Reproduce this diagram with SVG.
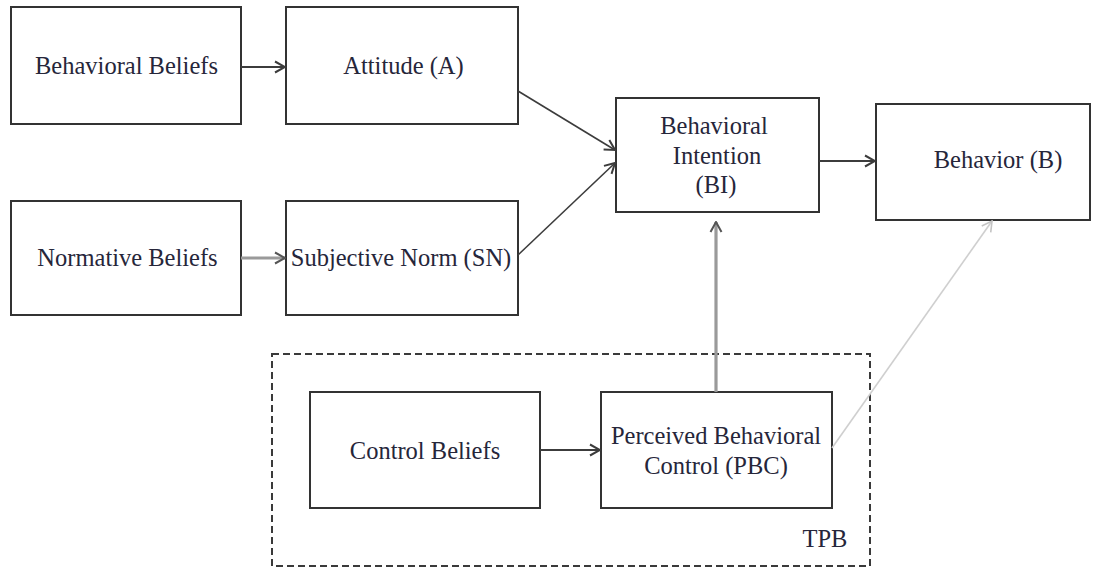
<svg xmlns="http://www.w3.org/2000/svg" width="1101" height="569" viewBox="0 0 1101 569" font-family="Liberation Serif">
  <defs>
    <style>
      .box { fill: #ffffff; stroke: #333333; stroke-width: 2; }
      .lbl { font-size: 24.5px; fill: #26263a; text-anchor: middle; }
      .dark { fill: none; stroke: #3c3c3c; stroke-width: 2; }
      .thin { fill: none; stroke: #3c3c3c; stroke-width: 1.6; }
      .gray { fill: none; stroke: #9a9a9a; stroke-width: 3.2; }
      .light { fill: none; stroke: #cfcfcf; stroke-width: 1.6; }
      .frame { fill: none; stroke: #3a3a3a; stroke-width: 2; stroke-dasharray: 7 4; }
    </style>
    <marker id="headDark" viewBox="0 0 14 14" refX="13" refY="7" markerWidth="14" markerHeight="14" markerUnits="userSpaceOnUse" orient="auto">
      <path d="M3,1.5 L13,7 L3,12.5" fill="none" stroke="#3c3c3c" stroke-width="2"/>
    </marker>
    <marker id="headGray" viewBox="0 0 14 14" refX="13" refY="7" markerWidth="14" markerHeight="14" markerUnits="userSpaceOnUse" orient="auto">
      <path d="M3,1.5 L13,7 L3,12.5" fill="none" stroke="#555555" stroke-width="2"/>
    </marker>
    <marker id="headLight" viewBox="0 0 14 14" refX="13" refY="7" markerWidth="14" markerHeight="14" markerUnits="userSpaceOnUse" orient="auto">
      <path d="M3,1.5 L13,7 L3,12.5" fill="none" stroke="#c4c4c4" stroke-width="1.6"/>
    </marker>
  </defs>

  <rect width="1101" height="569" fill="#ffffff"/>

  <!-- TPB frame -->
  <g id="tpb-frame">
    <rect class="frame" x="272" y="354" width="598" height="212"/>
    <text class="lbl" x="825" y="547" font-family="Liberation Serif">TPB</text>
  </g>

  <g id="behavioral-beliefs">
    <rect class="box" x="11" y="7" width="230" height="117"/>
    <text class="lbl" x="126.5" y="74" font-family="Liberation Serif">Behavioral Beliefs</text>
  </g>

  <g id="attitude">
    <rect class="box" x="286" y="7" width="232" height="117"/>
    <text class="lbl" x="403.5" y="74" font-family="Liberation Serif">Attitude (A)</text>
  </g>

  <g id="normative-beliefs">
    <rect class="box" x="11" y="201" width="230" height="114"/>
    <text class="lbl" x="127.5" y="266" font-family="Liberation Serif">Normative Beliefs</text>
  </g>

  <g id="subjective-norm">
    <rect class="box" x="286" y="201" width="232" height="114"/>
    <text class="lbl" x="401" y="266" font-family="Liberation Serif">Subjective Norm (SN)</text>
  </g>

  <g id="behavioral-intention">
    <rect class="box" x="616" y="98" width="203" height="114"/>
    <text class="lbl" x="714" y="134" font-family="Liberation Serif">Behavioral</text>
    <text class="lbl" x="717" y="164" font-family="Liberation Serif">Intention</text>
    <text class="lbl" x="716" y="193" font-family="Liberation Serif">(BI)</text>
  </g>

  <g id="behavior">
    <rect class="box" x="876" y="104" width="214" height="116"/>
    <text class="lbl" x="998" y="168" font-family="Liberation Serif">Behavior (B)</text>
  </g>

  <g id="control-beliefs">
    <rect class="box" x="310" y="392" width="230" height="116"/>
    <text class="lbl" x="425" y="459" font-family="Liberation Serif">Control Beliefs</text>
  </g>

  <g id="perceived-behavioral-control">
    <rect class="box" x="601" y="392" width="231" height="116" stroke="#555555"/>
    <text class="lbl" x="716" y="444" font-family="Liberation Serif">Perceived Behavioral</text>
    <text class="lbl" x="716" y="474" font-family="Liberation Serif">Control (PBC)</text>
  </g>

  <!-- connectors -->
  <g id="connectors">
    <line class="dark" x1="241" y1="67" x2="285" y2="67" marker-end="url(#headDark)"/>
    <line class="gray" x1="241" y1="258" x2="285" y2="258" marker-end="url(#headGray)"/>
    <line class="thin" x1="518" y1="91" x2="615" y2="150" marker-end="url(#headDark)"/>
    <line class="thin" x1="518" y1="255" x2="615" y2="163" marker-end="url(#headDark)"/>
    <line class="dark" x1="819" y1="161" x2="875" y2="161" marker-end="url(#headDark)"/>
    <line class="gray" x1="716" y1="392" x2="716" y2="222" marker-end="url(#headGray)"/>
    <line class="light" x1="832" y1="448" x2="992" y2="221" marker-end="url(#headLight)"/>
    <line class="dark" x1="540" y1="450" x2="600" y2="450" marker-end="url(#headDark)"/>
  </g>
</svg>
